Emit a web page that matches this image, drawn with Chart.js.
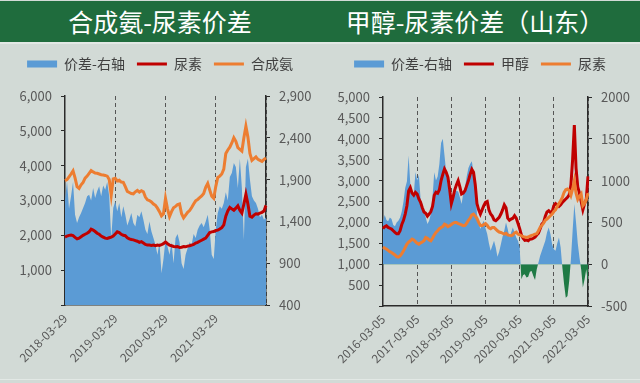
<!DOCTYPE html>
<html><head><meta charset="utf-8">
<script src="https://cdn.jsdelivr.net/npm/chart.js@4.4.0/dist/chart.umd.min.js"></script>
<style>
html,body{margin:0;padding:0;background:#d2dad6;width:640px;height:383px;overflow:hidden;font-family:'Noto Sans CJK SC',sans-serif;}
#bar{position:absolute;left:0;top:1px;width:640px;height:41px;background:#1f6c3d;}
.t{position:absolute;top:0;height:41px;line-height:40px;color:#fff;font-size:25px;text-align:center;white-space:nowrap;}
#t1{left:0;width:320px;} #t2{left:320px;width:310px;}
#sep{position:absolute;left:0;top:42px;width:640px;height:2px;background:#e2e8e5;}
#bot{position:absolute;left:0;top:379px;width:640px;height:1px;background:#e2e8e5;}
.wrap{position:absolute;top:44px;width:320px;height:335px;}
#w1{left:0;} #w2{left:320px;}
</style></head>
<body>
<div id="bar"><div class="t" id="t1">合成氨-尿素价差</div><div class="t" id="t2">甲醇-尿素价差（山东）</div></div>
<div id="sep"></div>
<div class="wrap" id="w1"><canvas id="c1" width="320" height="335"></canvas></div>
<div class="wrap" id="w2"><canvas id="c2" width="320" height="335"></canvas></div>
<div id="bot"></div>
<script>
// ---------- Left chart: 合成氨-尿素价差 (semi-monthly points, 2018-03-29 .. 2022-03) ----------
const leftTickLabels = ['2018-03-29', '2019-03-29', '2020-03-29', '2021-03-29'];
const leftSeriesNames = ['价差-右轴', '尿素', '合成氨'];
const leftSpread = [1650,1880,1550,1700,1870,1480,1380,1450,1500,1560,1620,1700,1720,1650,1800,1680,1760,1820,1700,1830,1780,1870,1700,1200,1560,
  1640,1520,1620,1450,1580,1480,1350,1420,1500,1380,1340,1480,1450,1520,1420,1300,1250,1400,1280,1200,1120,1000,1150,780,950,
  1180,1100,1000,1150,900,1200,1250,1150,900,830,1000,1080,1150,1120,1250,1200,1300,1350,1380,1330,1400,1480,1300,1000,950,
  1300,1500,1580,1550,1620,1750,1650,1930,1980,2100,2050,1800,2150,1800,1180,2050,2150,1900,1700,1650,1620,1550,1450,1480,1420,1450];
const leftUrea = [1950,1980,2000,2010,1990,1940,1900,1920,1960,2000,2030,2060,2100,2180,2150,2110,2060,2030,1980,1950,1920,1910,1930,1950,1980,
  2040,2100,2080,2030,2000,1990,1930,1900,1880,1870,1850,1830,1800,1820,1780,1740,1720,1720,1710,1720,1700,1720,1710,1730,1760,
  1810,1760,1720,1700,1680,1670,1680,1650,1660,1680,1670,1690,1700,1720,1740,1780,1800,1830,1860,1890,1920,2000,2080,2100,2110,
  2140,2150,2180,2220,2300,2550,2700,2800,2760,2720,2780,2850,2720,2640,2900,3180,2900,2550,2520,2580,2620,2610,2640,2660,2700,2860];
const leftAmmonia = [3570,3600,3680,3760,3850,3650,3400,3350,3450,3520,3640,3700,3780,3860,3820,3790,3780,3760,3740,3730,3720,3700,3600,3150,3620,
  3640,3560,3580,3530,3520,3400,3260,3230,3200,3190,3250,3290,3240,3280,3250,3100,3020,3000,2960,2900,2860,2780,2680,2560,2620,
  3060,2760,2540,2680,2790,2830,2880,2900,2620,2500,2580,2660,2710,2800,2900,2990,3030,3080,3130,3200,3380,3490,3300,3120,3060,
  3400,3660,3700,3760,3900,4350,4450,4530,4650,4800,4700,4520,4470,4420,4800,5130,4820,4350,4150,4200,4250,4180,4150,4120,4180,4220];
const leftStep = 25;

// ---------- Right chart: 甲醇-尿素价差（山东） (20 points per year, 2016-03-05 .. 2022-03-05) ----------
const rightTickLabels = ['2016-03-05', '2017-03-05', '2018-03-05', '2019-03-05', '2020-03-05', '2021-03-05', '2022-03-05'];
const rightSeriesNames = ['价差-右轴', '甲醇', '尿素'];
const rightSpread = [515,590,530,515,560,540,470,455,500,520,560,630,750,910,990,1300,950,880,830,1100,
  1000,1070,780,720,630,560,480,520,600,800,1100,1000,1050,1200,1450,1500,1300,1100,950,850,
  750,800,840,880,870,800,720,850,920,1050,1150,1200,1230,1100,900,600,500,420,480,520,
  430,360,250,160,220,280,200,90,150,240,330,400,500,420,320,380,440,380,320,280,
  200,-180,-130,-120,-160,-150,-90,-80,-140,-190,-60,20,100,160,220,280,380,440,360,240,
  180,160,250,320,200,-40,-240,-400,-380,-200,60,400,720,500,250,80,-60,-280,-180,-60,-240];
const rightMethanol = [1850,1900,1920,1880,1860,1840,1800,1760,1730,1730,1800,1950,2050,2200,2400,2750,2830,2700,2650,2720,
  2680,2560,2480,2350,2250,2220,2150,2200,2260,2380,2650,2720,2700,2780,3000,3150,3280,3200,3080,2800,
  2450,2600,2780,2900,3000,2850,2680,2700,2760,2880,3000,3150,3270,3200,2900,2450,2300,2200,2300,2400,
  2480,2500,2300,2200,2150,2060,2040,2080,2120,2200,2300,2420,2350,2100,2050,2080,2100,2160,2100,1980,
  1850,1700,1620,1570,1580,1560,1600,1600,1620,1650,1700,1740,1850,1960,2000,2150,2250,2280,2240,2250,
  2400,2450,2420,2380,2420,2480,2520,2560,2600,2660,2900,3500,4330,3300,2850,2700,2500,2300,2450,2550,3100];
const rightUrea = [1410,1380,1360,1330,1300,1280,1250,1220,1180,1170,1200,1250,1320,1400,1480,1530,1560,1600,1580,1540,
  1500,1480,1510,1530,1560,1640,1620,1580,1560,1620,1700,1760,1800,1850,1880,1900,1960,1940,1900,1920,
  1950,1980,2000,2000,1970,1960,1940,1920,1930,1980,2050,2100,2180,2200,2150,2100,2000,1930,1920,1950,
  1970,1930,1870,1850,1880,1880,1840,1800,1770,1760,1740,1720,1740,1700,1690,1680,1700,1750,1770,1720,
  1700,1680,1660,1650,1640,1650,1670,1690,1700,1720,1730,1800,1880,1930,1980,2050,2080,2120,2160,2200,
  2260,2300,2380,2450,2520,2600,2720,2780,2800,2760,2650,2800,3000,2700,2550,2620,2680,2400,2450,2550,2700];
const rightStep = 20;

// ---------- styling ----------
const BLUE = '#5b9bd5', RED = '#c00000', ORANGE = '#ed7d31', GREEN = '#1f7a45';
const AXIS = '#2b2b2b', TXT = '#595959';
Chart.defaults.font.family = "'Noto Sans CJK SC','Noto Sans',sans-serif";
Chart.defaults.color = TXT;
Chart.defaults.animation = false;

function xLabels(n) { return Array.from({length: n}, (_, i) => String(i)); }

// extra space below the legend
const legendGap = {
  id: 'legendGap',
  beforeInit(chart, args, opts) {
    const fit = chart.legend.fit;
    chart.legend.fit = function () { fit.call(this); this.height += opts.extra || 0; };
  }
};

function makeChart(id, cfg) {
  const n = cfg.lineA.length;
  const step = cfg.step;
  return new Chart(document.getElementById(id), {
    type: 'line',
    plugins: [legendGap],
    data: {
      labels: xLabels(n),
      datasets: [
        { label: cfg.names[0], data: cfg.spread, yAxisID: 'y1', borderWidth: 0, pointRadius: 0,
          pointStyle: 'rect', backgroundColor: BLUE, borderColor: BLUE, tension: 0,
          fill: cfg.fill, order: 3 },
        { label: cfg.names[1], data: cfg.lineA, yAxisID: 'y', borderColor: RED, backgroundColor: RED,
          borderWidth: 3, pointRadius: 0, pointStyle: 'line', tension: 0, fill: false, order: 2 },
        { label: cfg.names[2], data: cfg.lineB, yAxisID: 'y', borderColor: ORANGE, backgroundColor: ORANGE,
          borderWidth: 3, pointRadius: 0, pointStyle: 'line', tension: 0, fill: false, order: 1 }
      ]
    },
    options: {
      responsive: false,
      layout: { padding: { top: cfg.padTop, left: 0, right: 0, bottom: 0 } },
      plugins: {
        tooltip: { enabled: false },
        legendGap: { extra: cfg.legendExtra },
        legend: {
          position: 'top',
          labels: { usePointStyle: true, pointStyleWidth: 30, boxHeight: 7, padding: 12,
            color: '#404040', font: { size: 14 },
            sort: (a, b) => a.datasetIndex - b.datasetIndex }
        }
      },
      scales: {
        x: {
          type: 'category',
          offset: false,
          afterFit: s => { s.height = cfg.xHeight; },
          border: { display: true, color: AXIS, width: 1.5, dash: [4, 3] },
          grid: {
            drawOnChartArea: true, drawTicks: false, lineWidth: 1,
            color: c => (c.index % step === 0 && c.index > 0) ? '#555' : 'rgba(0,0,0,0)'
          },
          ticks: {
            autoSkip: false, minRotation: 45, maxRotation: 45, padding: 6,
            font: { size: 12 }, color: TXT,
            callback: (v, i) => (i % step === 0 && cfg.tickLabels[i / step]) ? cfg.tickLabels[i / step] : ''
          }
        },
        y: {
          position: 'left', min: 0, max: cfg.yMax,
          afterFit: s => { s.width = cfg.yWidth; },
          border: { display: true, color: AXIS, width: 1.5 },
          grid: { drawOnChartArea: false, drawTicks: true, tickLength: 4, color: AXIS },
          ticks: { stepSize: cfg.yStep, padding: 9, font: { size: 13 }, color: TXT,
            callback: v => v === 0 ? '' : v.toLocaleString('en-US') }
        },
        y1: {
          position: 'right', min: cfg.y1Min, max: cfg.y1Max,
          afterFit: s => { s.width = cfg.y1Width; },
          border: { display: true, color: AXIS, width: 1.5 },
          grid: { drawOnChartArea: false, drawTicks: true, tickLength: 4, color: AXIS },
          ticks: { stepSize: 500, padding: 9, font: { size: 13 }, color: TXT,
            callback: v => cfg.comma ? v.toLocaleString('en-US') : String(v) }
        }
      }
    }
  });
}

makeChart('c1', {
  names: leftSeriesNames, spread: leftSpread, lineA: leftUrea, lineB: leftAmmonia,
  step: leftStep, tickLabels: leftTickLabels, fill: 'start',
  yMax: 6000, yStep: 1000, y1Min: 400, y1Max: 2900, comma: true,
  yWidth: 65, y1Width: 54, xHeight: 74, padTop: 1, legendExtra: 15
});
makeChart('c2', {
  names: rightSeriesNames, spread: rightSpread, lineA: rightMethanol, lineB: rightUrea,
  step: rightStep, tickLabels: rightTickLabels, fill: { target: 'origin', above: BLUE, below: GREEN },
  yMax: 5000, yStep: 500, y1Min: -500, y1Max: 2000, comma: false,
  yWidth: 63, y1Width: 52, xHeight: 73, padTop: 1, legendExtra: 16
});
</script>
</body></html>
